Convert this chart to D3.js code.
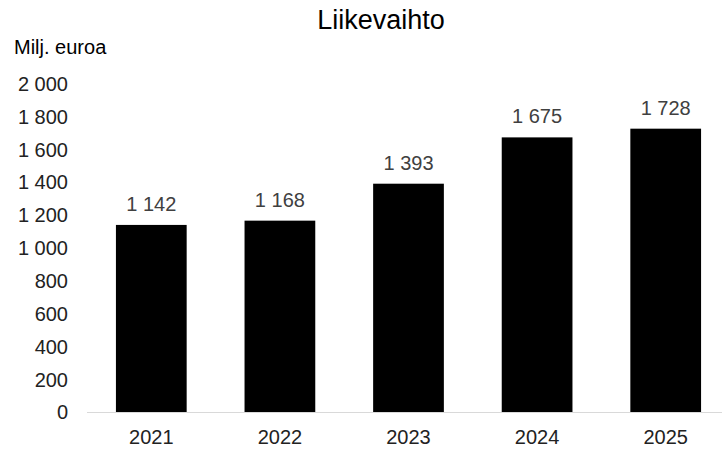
<!DOCTYPE html>
<html>
<head>
<meta charset="utf-8">
<script src="https://cdn.jsdelivr.net/npm/d3@7"></script>
<style>
  body { margin: 0; background: #fff; }
  text { font-family: "Liberation Sans", Arial, sans-serif; }
</style>
</head>
<body>
<div id="chart"></div>
<script>
const years = ["2021", "2022", "2023", "2024", "2025"];
const revenue = [1142, 1168, 1393, 1675, 1728];
const yTicks = [0, 200, 400, 600, 800, 1000, 1200, 1400, 1600, 1800, 2000];

const W = 722, H = 450;
const fmt = d => d3.format(",")(d).replace(/,/g, " ");

const svg = d3.select("#chart").append("svg")
    .attr("width", W)
    .attr("height", H);

const x = d3.scaleBand()
    .domain(years)
    .range([87, 730])
    .paddingInner(0.45)
    .paddingOuter(0.225);

const y = d3.scaleLinear()
    .domain([0, 2000])
    .range([412.5, 84]);

// title and unit
svg.append("text")
   .attr("x", 381).attr("y", 29)
   .attr("text-anchor", "middle")
   .attr("font-size", 27)
   .attr("fill", "#000")
   .text("Liikevaihto");

svg.append("text")
   .attr("x", 14).attr("y", 54)
   .attr("font-size", 20)
   .attr("fill", "#000")
   .text("Milj. euroa");

// y axis labels (no line)
const yAxis = svg.append("g")
   .attr("transform", "translate(74,0)")
   .call(d3.axisLeft(y).tickValues(yTicks).tickFormat(fmt).tickSize(0).tickPadding(6));
yAxis.select(".domain").remove();
yAxis.selectAll("text")
   .attr("font-size", 20)
   .attr("fill", "#222")
   .style("font-family", "Liberation Sans, Arial, sans-serif");

// bars
svg.selectAll("rect.bar")
   .data(revenue)
   .enter().append("rect")
   .attr("class", "bar")
   .attr("x", (d, i) => x(years[i]))
   .attr("y", d => y(d))
   .attr("width", x.bandwidth())
   .attr("height", d => y(0) - y(d))
   .attr("fill", "#000");

// baseline
svg.append("line")
   .attr("x1", 87).attr("x2", 730)
   .attr("y1", y(0)).attr("y2", y(0))
   .attr("stroke", "#d9d9d9")
   .attr("stroke-width", 1);

// value labels
svg.selectAll("text.val")
   .data(revenue)
   .enter().append("text")
   .attr("class", "val")
   .attr("x", (d, i) => x(years[i]) + x.bandwidth() / 2)
   .attr("y", d => y(d) - 14)
   .attr("text-anchor", "middle")
   .attr("font-size", 20)
   .attr("fill", "#404040")
   .text(fmt);

// x axis labels
const xAxis = svg.append("g")
   .attr("transform", `translate(0,${y(0)})`)
   .call(d3.axisBottom(x).tickSize(0).tickPadding(17));
xAxis.select(".domain").remove();
xAxis.selectAll("text")
   .attr("font-size", 20)
   .attr("fill", "#222")
   .style("font-family", "Liberation Sans, Arial, sans-serif");
</script>
</body>
</html>
